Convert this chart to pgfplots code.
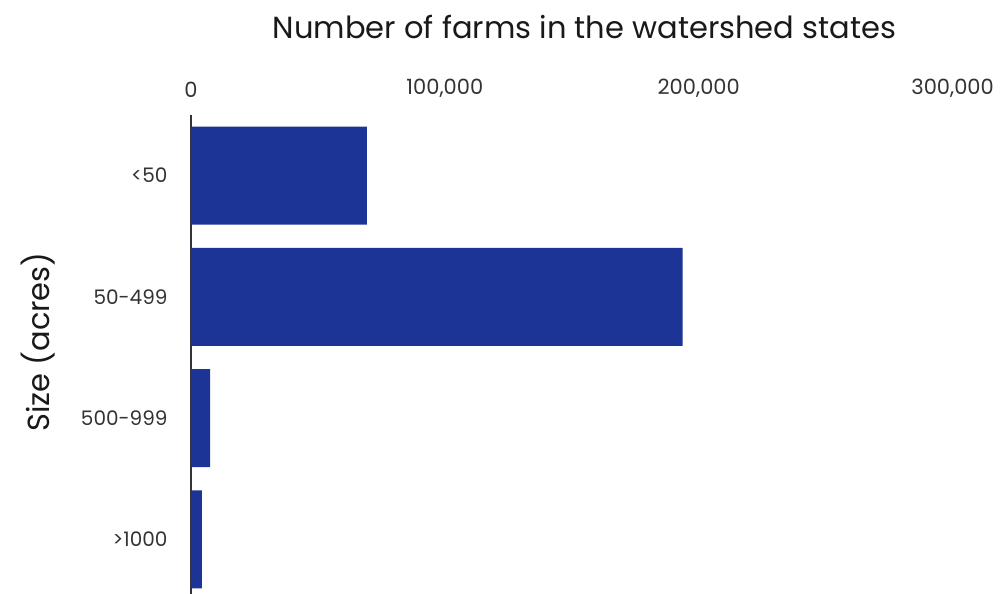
\documentclass[border=0pt]{standalone}
\usepackage{pgfplots}
\pgfplotsset{compat=1.18}
\usepackage{fontspec}
\setmainfont{Poppins}
\definecolor{barblue}{RGB}{27,52,150}
\definecolor{txt}{RGB}{51,51,51}
\begin{document}
\begin{tikzpicture}
\begin{axis}[
  name=ax,
  scale only axis, width=787pt, height=479pt,
  xbar, bar width=98pt,
  xmin=0, xmax=310000, ymin=-0.5, ymax=3.45, y dir=reverse,
  ytick={0,1,2,3}, yticklabels={<50,50-499,500-999,>1000},
  xtick={0,100000,200000,300000},
  xticklabels={0,{100,000},{200,000},{300,000}},
  scaled x ticks=false,
  axis x line*=top, axis y line*=left,
  x axis line style={draw=none},
  y axis line style={draw=txt, line width=1.6pt, -},
  major tick length=0pt,
  xticklabel pos=top,
  tick label style={text=txt},
  xticklabel style={font=\fontsize{21}{24}\selectfont, yshift=14pt},
  yticklabel style={font=\fontsize{20}{24}\selectfont, xshift=-20pt},
  xlabel={Number of farms in the watershed states},
  xlabel style={font=\fontsize{30.5}{34}\selectfont, text=black!90,
    at={(axis description cs:0.5,1)}, anchor=center, yshift=88pt},
  ylabel={Size (acres)},
  ylabel style={font=\fontsize{30.5}{34}\selectfont, text=black!90,
    at={(axis description cs:-0.1944,0.526)}, anchor=center},
  /pgf/number format/assume math mode=true,
  clip=false,
]
\addplot[fill=barblue, draw=none] coordinates {(69300,0) (193700,1) (7500,2) (4300,3)};
\end{axis}
\pgfresetboundingbox
\path (ax.south west) ++(-191pt,0pt) rectangle ++(1004pt,594pt);
\end{tikzpicture}
\end{document}
